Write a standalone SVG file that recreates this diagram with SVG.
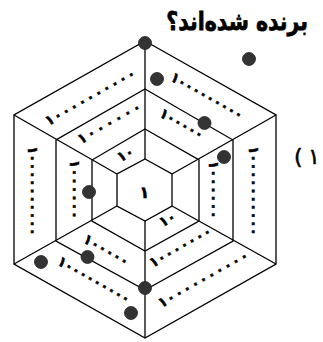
<svg xmlns="http://www.w3.org/2000/svg" width="323" height="342" viewBox="0 0 323 342">
<style>
.hex{fill:none;stroke:#000;stroke-width:1.3;stroke-linejoin:miter}
.sp{stroke:#000;stroke-width:1.3}
.dot{fill:#333;stroke:#222;stroke-width:0.8}
.lbl{font-family:"DejaVu Sans",sans-serif;font-weight:bold;font-size:14px;fill:#000;stroke:#000;stroke-width:0.5}
.ttl{font-family:"DejaVu Sans",sans-serif;font-weight:bold;font-size:20.5px;fill:#000;stroke:#000;stroke-width:0.6}
</style>
<rect width="323" height="342" fill="#fff"/>
<text class="ttl" transform="translate(308,30) scale(1,1.25)" text-anchor="end">برنده شده‌اند؟</text>
<g id="num" style="font-family:'DejaVu Sans',sans-serif;font-size:22px;fill:#000;stroke:#000;stroke-width:0.5">
<text x="294" y="164">(</text>
<text x="308" y="164">۱</text>
</g>
<g id="board">
<polygon class="hex" points="145,41 276,115 276,264 145,338 14,264 14,115"/>
<polygon class="hex" points="145,89 233,140 233,241 145,290 56,241 56,140"/>
<polygon class="hex" points="145,129 199,160 199,221 145,251 92,221 92,160"/>
<polygon class="hex" points="145,159 172,174 172,206 145,221 117,206 117,174"/>
<line class="sp" x1="145" y1="41" x2="145" y2="159"/>
<line class="sp" x1="145" y1="221" x2="145" y2="338"/>
<line class="sp" x1="14" y1="115" x2="117" y2="174"/>
<line class="sp" x1="276" y1="115" x2="172" y2="174"/>
<line class="sp" x1="14" y1="264" x2="117" y2="206"/>
<line class="sp" x1="276" y1="264" x2="172" y2="206"/>
</g>
<g id="labels">
<text class="lbl" transform="translate(46,122.3) rotate(-29.5)" y="4.5" textLength="101.9" lengthAdjust="spacing">۱۰۰۰۰۰۰۰۰۰۰</text>
<text class="lbl" transform="translate(171.4,76) rotate(29.5)" y="4.5" textLength="81.7" lengthAdjust="spacing">۱۰۰۰۰۰۰۰۰۰</text>
<text class="lbl" transform="translate(253,145.9) rotate(90)" y="4.5" textLength="90.2" lengthAdjust="spacing">۱۰۰۰۰۰۰۰۰۰۰</text>
<text class="lbl" transform="translate(32,145.9) rotate(90)" y="4.5" textLength="90.2" lengthAdjust="spacing">۱۰۰۰۰۰۰۰۰۰۰</text>
<text class="lbl" transform="translate(58.4,260) rotate(29.5)" y="4.5" textLength="81.7" lengthAdjust="spacing">۱۰۰۰۰۰۰۰۰۰</text>
<text class="lbl" transform="translate(159,304.3) rotate(-29.5)" y="4.5" textLength="101.8" lengthAdjust="spacing">۱۰۰۰۰۰۰۰۰۰۰</text>
<text class="lbl" transform="translate(78.6,140.5) rotate(-29.5)" y="4.5" textLength="70.8" lengthAdjust="spacing">۱۰۰۰۰۰۰</text>
<text class="lbl" transform="translate(160.5,112) rotate(29.5)" y="4.5" textLength="48.7" lengthAdjust="spacing">۱۰۰۰۰۰</text>
<text class="lbl" transform="translate(213,160.8) rotate(90)" y="4.5" textLength="58.3" lengthAdjust="spacing">۱۰۰۰۰۰۰</text>
<text class="lbl" transform="translate(74,159.7) rotate(90)" y="4.5" textLength="59.5" lengthAdjust="spacing">۱۰۰۰۰۰۰</text>
<text class="lbl" transform="translate(84.3,237.9) rotate(29.5)" y="4.5" textLength="50.5" lengthAdjust="spacing">۱۰۰۰۰۰</text>
<text class="lbl" transform="translate(150.2,264.1) rotate(-29.5)" y="4.5" textLength="69.5" lengthAdjust="spacing">۱۰۰۰۰۰۰۰</text>
<text class="lbl" transform="translate(118,158.7) rotate(-29.5)" y="4.5">۱۰</text>
<text class="lbl" transform="translate(160,223.7) rotate(-29.5)" y="4.5">۱۰</text>
<text class="lbl" x="144.5" y="198" text-anchor="middle" style="font-size:16px">۱</text>
</g>
<g id="darts">
<circle class="dot" cx="145" cy="43" r="6.5"/>
<circle class="dot" cx="249" cy="59" r="6.5"/>
<circle class="dot" cx="157" cy="79" r="6.5"/>
<circle class="dot" cx="204.5" cy="123" r="6.5"/>
<circle class="dot" cx="224" cy="157" r="6.5"/>
<circle class="dot" cx="89" cy="192" r="6.5"/>
<circle class="dot" cx="41" cy="262" r="6.5"/>
<circle class="dot" cx="87.5" cy="257" r="6.5"/>
<circle class="dot" cx="145" cy="288" r="6.5"/>
<circle class="dot" cx="131" cy="313" r="6.5"/>
</g>
</svg>
